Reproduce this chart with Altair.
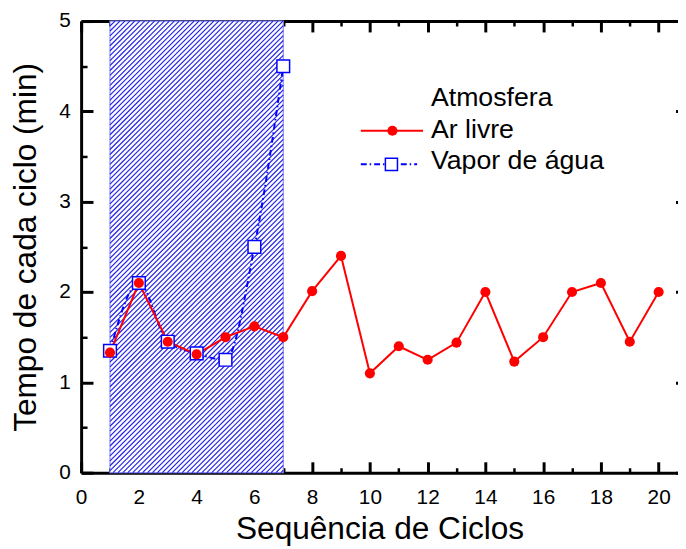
import altair as alt
import pandas as pd

# ---------------- data ----------------
ciclos = list(range(1, 21))
ar_livre = [1.33, 2.10, 1.45, 1.31, 1.50, 1.62, 1.50, 2.01, 2.40, 1.10,
            1.40, 1.25, 1.44, 2.00, 1.23, 1.50, 2.00, 2.10, 1.45, 2.00]
vapor_ciclos = [1, 2, 3, 4, 5, 6, 7]
vapor = [1.35, 2.10, 1.45, 1.32, 1.25, 2.50, 4.50]
regiao_x = [1, 7]          # hatched interval (cycles in water vapour)
regiao_y = [0, 5]
x_major = list(range(0, 21, 2))
x_minor = list(range(1, 20, 2))
y_major = [0, 1, 2, 3, 4, 5]
y_minor = [0.5, 1.5, 2.5, 3.5, 4.5]
serie_ar = "Ar livre"
serie_vapor = "Vapor de água"
legenda_titulo = "Atmosfera"

# ---------------- layout ----------------
W, H = 604, 457
XMAX = 20.67
YMAX = 5
PX = W / XMAX      # pixels per x unit
PY = H / YMAX      # pixels per y unit
FONT = "Liberation Sans"
RED = "#ff0000"
BLUE = "#0000ff"

df_ar = pd.DataFrame({"x": ciclos, "y": ar_livre})
df_vp = pd.DataFrame({"x": vapor_ciclos, "y": vapor})

# hatch lines (45 degrees on screen) inside the shaded region
k = PY / PX
dx = 5.0 / PX
x0, x1 = regiao_x
y0, y1 = regiao_y
rows = []
c = x0 - k * (y1 - y0)
while c < x1:
    xs = max(x0, c)
    xe = min(x1, c + k * (y1 - y0))
    ys = (xs - c) / k
    ye = (xe - c) / k
    if xe > xs:
        rows.append({"x": xs, "y": ys, "x2": xe, "y2": ye})
    c += dx
df_hatch = pd.DataFrame(rows)
df_reg = pd.DataFrame({"x": [x0], "x2": [x1], "y": [y0], "y2": [y1]})

xscale = alt.Scale(domain=[0, XMAX], nice=False, zero=False)
yscale = alt.Scale(domain=[0, YMAX], nice=False, zero=False)

# ---- axes: inward ticks via negative tick size expressions ----
ax_bottom = alt.Axis(orient="bottom", values=x_major, labelFontSize=21, labelFont=FONT,
                     labelColor="black", labelPadding=25, labelFlush=False,
                     ticks=True, tickSize={"expr": "-11"}, tickWidth=3, tickColor="black",
                     grid=False, domain=True, domainColor="black", domainWidth=3,
                     title="Sequência de Ciclos", titleFont=FONT, titleFontSize=32,
                     titleFontWeight="normal", titleColor="black",
                     titleBaseline="alphabetic", titleY=67)
ax_bottom_minor = alt.Axis(orient="bottom", values=x_minor, labels=False,
                           ticks=True, tickSize={"expr": "-5"}, tickWidth=2.5,
                           tickColor="black", grid=False, domain=False, title=None)
ax_top = alt.Axis(orient="top", values=x_major, labels=False,
                  ticks=True, tickSize={"expr": "-11"}, tickWidth=3, tickColor="black",
                  grid=False, domain=True, domainColor="black", domainWidth=3, title=None)
ax_top_minor = alt.Axis(orient="top", values=x_minor, labels=False,
                        ticks=True, tickSize={"expr": "-5"}, tickWidth=2.5,
                        tickColor="black", grid=False, domain=False, title=None)
ax_left = alt.Axis(orient="left", values=y_major, labelFontSize=21, labelFont=FONT,
                   labelColor="black", labelPadding=23, labelFlush=False,
                   ticks=True, tickSize={"expr": "-12"}, tickWidth=3, tickColor="black",
                   grid=False, domain=True, domainColor="black", domainWidth=3,
                   title="Tempo de cada ciclo (min)", titleFont=FONT, titleFontSize=32,
                   titleFontWeight="normal", titleColor="black",
                   titleBaseline="alphabetic", titleX=-46, titleAngle=270)
ax_left_minor = alt.Axis(orient="left", values=y_minor, labels=False,
                         ticks=True, tickSize={"expr": "-6"}, tickWidth=2.5,
                         tickColor="black", grid=False, domain=False, title=None)
ax_right = alt.Axis(orient="right", values=y_major, labels=False,
                    ticks=True, tickSize={"expr": "-2.5"}, tickWidth=3,
                    tickColor="black", grid=False, domain=False, title=None)


def X(f, axis=None):
    return alt.X(f, type="quantitative", scale=xscale, axis=axis)


def Y(f, axis=None):
    return alt.Y(f, type="quantitative", scale=yscale, axis=axis)


region = alt.Chart(df_reg).mark_rect(fill="white", stroke="#8c8cff", strokeWidth=1.2).encode(
    x=X("x", ax_bottom), x2="x2", y=Y("y", ax_left), y2="y2")

hatch = alt.Chart(df_hatch).mark_rule(color="#2424e6", strokeWidth=1.2).encode(
    x=X("x", ax_bottom_minor), y=Y("y", ax_left_minor), x2="x2", y2="y2")

vp_line = alt.Chart(df_vp).mark_line(color=BLUE, strokeWidth=2, strokeDash=[6, 3, 1.5, 3],
                                     interpolate="monotone").encode(
    x=X("x", ax_top), y=Y("y", ax_right))
ar_line = alt.Chart(df_ar).mark_line(color=RED, strokeWidth=2).encode(
    x=X("x", ax_top_minor), y=Y("y"))
vp_pts = alt.Chart(df_vp).mark_point(shape="square", size=165, filled=False, fill="white",
                                     fillOpacity=1, stroke=BLUE, strokeWidth=1.5,
                                     opacity=1).encode(x=X("x"), y=Y("y"))
ar_pts = alt.Chart(df_ar).mark_point(shape="circle", size=105, filled=True, color=RED,
                                     opacity=1).encode(x=X("x"), y=Y("y"))

# legend (drawn by hand to combine line + marker symbols)
leg_src = pd.DataFrame({"a": [0]})


def leg_text(txt, ypix):
    return alt.Chart(leg_src).mark_text(align="left", baseline="alphabetic", font=FONT,
                                        fontSize=27, color="black").encode(
        x=alt.value(354), y=alt.value(ypix), text=alt.value(txt))


leg_title = leg_text(legenda_titulo, 86)
leg_t1 = leg_text(serie_ar, 118)
leg_t2 = leg_text(serie_vapor, 150)
leg_l1 = alt.Chart(leg_src).mark_rule(color=RED, strokeWidth=2).encode(
    x=alt.value(283), x2=alt.value(346), y=alt.value(111))
leg_p1 = alt.Chart(leg_src).mark_point(shape="circle", size=105, filled=True, color=RED,
                                       opacity=1).encode(x=alt.value(315), y=alt.value(111))
leg_l2 = alt.Chart(leg_src).mark_rule(color=BLUE, strokeWidth=2, strokeDash=[6, 3, 1.5, 3]).encode(
    x=alt.value(283), x2=alt.value(340), y=alt.value(145))
leg_p2 = alt.Chart(leg_src).mark_point(shape="square", size=150, filled=False, fill="white",
                                       fillOpacity=1, stroke=BLUE, strokeWidth=1.5,
                                       opacity=1).encode(x=alt.value(314), y=alt.value(145))

chart = alt.layer(
    region, hatch, vp_line, ar_line, vp_pts, ar_pts,
    leg_title, leg_t1, leg_t2, leg_l1, leg_l2, leg_p1, leg_p2
).resolve_axis(
    x="independent", y="independent"
).properties(
    width=W, height=H,
    padding={"left": 74, "top": 10, "right": 0, "bottom": 74},
    autosize=alt.AutoSizeParams(type="none"),
).configure_view(stroke=None)

chart.save("out.html", embed_options={"renderer": "svg", "actions": False})
